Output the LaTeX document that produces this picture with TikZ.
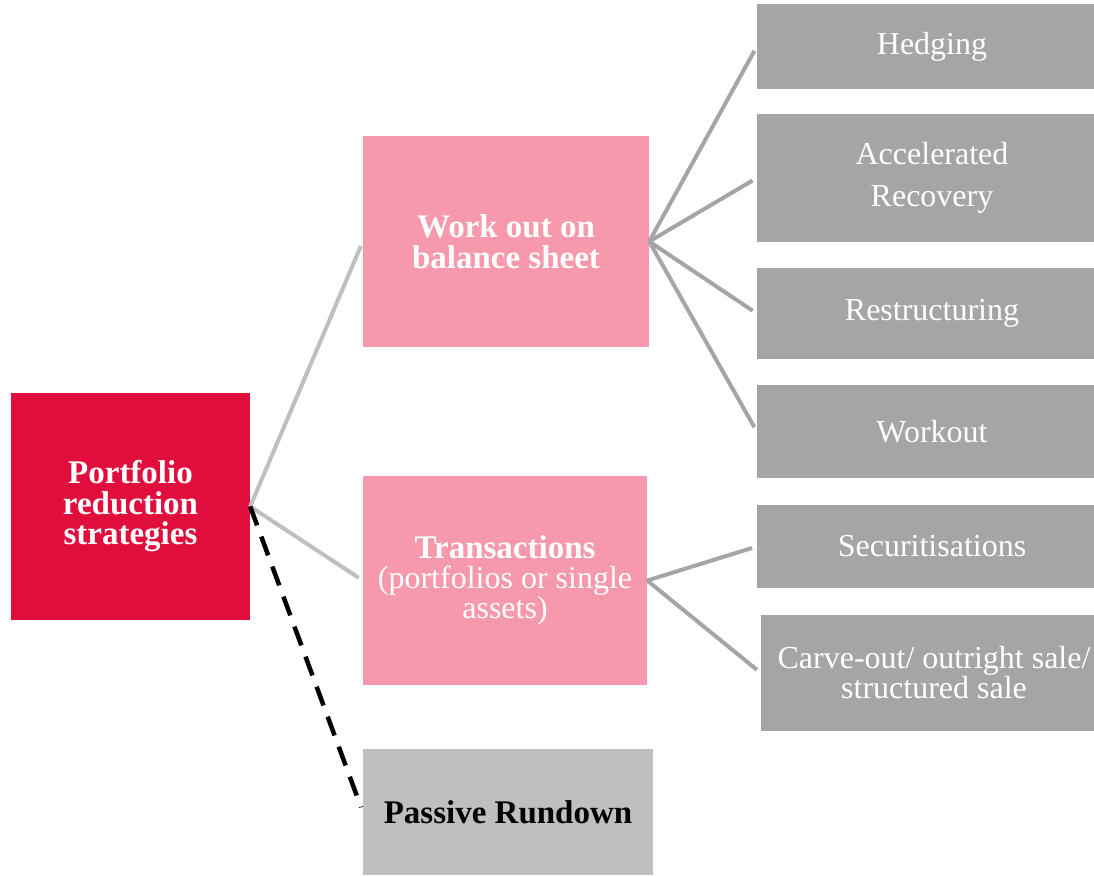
\documentclass[tikz,border=0pt]{standalone}
\usepackage{fontspec}
\setmainfont{Liberation Serif}
\usepackage{xcolor}
\usetikzlibrary{positioning}

\definecolor{pwcred}{HTML}{E10E3D}
\definecolor{pwcpink}{HTML}{F799AD}
\definecolor{leafgray}{HTML}{A5A5A5}
\definecolor{idlegray}{HTML}{BFBFBF}

\tikzset{
  box/.style   ={rectangle, inner sep=0pt, align=center, text=white,
                 font=\fontsize{32}{30}\selectfont},
  root/.style  ={box, fill=pwcred, font=\fontsize{33}{30.5}\selectfont\bfseries,
                 minimum width=239pt, minimum height=227pt},
  branch/.style={box, fill=pwcpink, minimum width=286pt, minimum height=211pt},
  idle/.style  ={box, fill=idlegray, text=black, minimum width=290pt,
                 minimum height=126pt, font=\fontsize{33}{30}\selectfont\bfseries},
  leaf/.style  ={box, fill=leafgray, minimum width=350pt},
  twig/.style  ={draw=idlegray, line width=4pt, shorten >=5pt},   % root -> branch
  sprig/.style ={draw=leafgray, line width=4pt, shorten >=5pt},   % branch -> leaf
  lazy/.style  ={draw=black, line width=4.5pt, dash pattern=on 20pt off 12pt, shorten >=5pt},
}

\begin{document}
\begin{tikzpicture}[x=1pt, y=-1pt]
\useasboundingbox (0,0) rectangle (1094,875);

% ---- root ----
\node[root] (port) at (130.5,506.5) {Portfolio\\reduction\\strategies};

% ---- strategies ----
\node[branch, font=\fontsize{33}{30.5}\selectfont\bfseries] (wob) at (506,241.5)
  {Work out on\\balance sheet};
\node[branch, minimum width=284pt, minimum height=209pt] (trans) at (505,580.5)
  {\textbf{\fontsize{33}{30}\selectfont Transactions}\\(portfolios or single\\assets)};
\node[idle] (passive) at (508,812) {Passive Rundown};

% ---- work-out options ----
\node[leaf, minimum height=85pt]  (hedge)   at (932,46.5)  {Hedging};
\node[leaf, minimum height=128pt, font=\fontsize{32}{42}\selectfont]
                                  (accrec)  at (932,178)   {Accelerated\\Recovery};
\node[leaf, minimum height=91pt]  (restr)   at (932,313.5) {Restructuring};
\node[leaf, minimum height=93pt]  (wkout)   at (932,431.5) {Workout};

% ---- transaction options ----
\node[leaf, minimum height=83pt]  (secur)   at (932,546.5) {Securitisations};
\node[leaf, minimum width=346pt, minimum height=116pt]
                                  (carve)   at (934,673)   {Carve-out/ outright sale/\\structured sale};

% ---- connectors ----
\foreach \s in {wob,trans}
  \draw[twig] (port.east) -- (\s.west);
\draw[lazy] (port.east) -- (passive.west);

\foreach \s in {hedge,accrec,restr,wkout}
  \draw[sprig] (wob.east) -- (\s.west);
\foreach \s in {secur,carve}
  \draw[sprig] (trans.east) -- (\s.west);

\end{tikzpicture}
\end{document}
